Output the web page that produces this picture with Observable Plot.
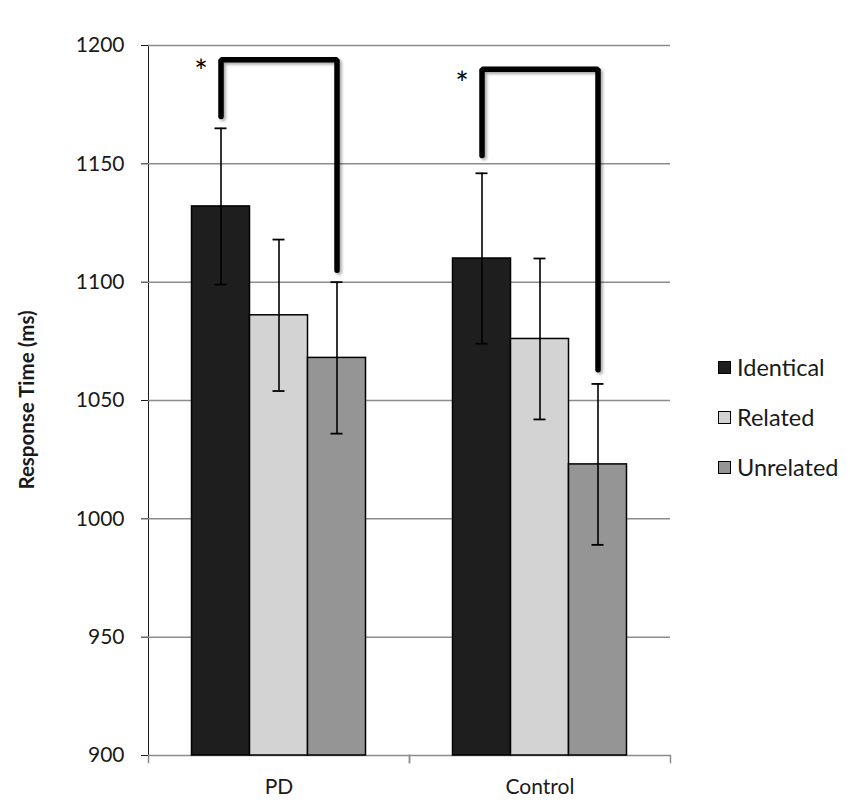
<!DOCTYPE html>
<html>
<head>
<meta charset="utf-8">
<script src="https://cdn.jsdelivr.net/npm/d3@7"></script>
<script src="https://cdn.jsdelivr.net/npm/@observablehq/plot@0.6"></script>
<style>
  html, body { margin: 0; padding: 0; background: #fff; }
  #wrap { position: relative; width: 850px; height: 809px; font-family: Lato, "Open Sans", sans-serif; color: #1a1a1a; }
  #ylabel { position: absolute; left: 26px; top: 400px; transform: translate(-50%, -50%) rotate(-90deg); white-space: nowrap; font-weight: bold; font-size: 20.5px; }
  #legend { position: absolute; left: 718px; top: 342px; }
  .row { display: flex; align-items: center; height: 50px; font-size: 23.5px; }
  .sw { width: 11px; height: 11px; border: 1.5px solid #000; margin-right: 6px; }
  #chart svg g[aria-label*="tick label"] text, #chart svg g[aria-label*="axis"] text { font-size: 21px !important; }
  #chart svg g[aria-label="line"] path { filter: drop-shadow(2px 2px 1.5px rgba(0,0,0,0.35)); }
</style>
</head>
<body>
<div id="wrap">
  <div id="chart"></div>
  <div id="ylabel">Response Time (ms)</div>
  <div id="legend"></div>
</div>
<script>
// ---- data ----
const groups = ["PD", "Control"];
const conditions = ["Identical", "Related", "Unrelated"];
const conditionColors = ["#1e1e1e", "#d3d3d3", "#959595"];
const meansPD = [1132, 1086, 1068];
const meansControl = [1110, 1076, 1023];
const errPD = [33, 32, 32];
const errControl = [36, 34, 34];
const yDomain = [900, 1200];
const yTicks = [900, 950, 1000, 1050, 1100, 1150, 1200];
// significance brackets: [left end, top, right end] in ms
const bracketPD = [1170, 1194, 1105];
const bracketControl = [1153.5, 1190, 1063];
const starLevels = [1192, 1187];

// ---- build tables ----
const rows = [];
groups.forEach((g, gi) => {
  const m = gi === 0 ? meansPD : meansControl;
  const e = gi === 0 ? errPD : errControl;
  conditions.forEach((c, ci) => rows.push({group: g, condition: c, mean: m[ci], lo: m[ci] - e[ci], hi: m[ci] + e[ci]}));
});
const brackets = [];
[bracketPD, bracketControl].forEach((b, gi) => {
  const g = groups[gi];
  brackets.push({group: g, condition: conditions[0], v: b[0]});
  brackets.push({group: g, condition: conditions[0], v: b[1]});
  brackets.push({group: g, condition: conditions[2], v: b[1]});
  brackets.push({group: g, condition: conditions[2], v: b[2]});
});
const stars = groups.map((g, i) => ({group: g, condition: conditions[0], v: starLevels[i]}));

const W = 850, H = 809, mt = 45, mb = 54, ml = 148, mr = 180;
const gray = "#8c8c8c";

const plot = Plot.plot({
  width: W, height: H,
  marginTop: mt, marginBottom: mb, marginLeft: ml, marginRight: mr,
  style: {fontSize: "21px", fontFamily: "Lato, 'Open Sans', sans-serif", color: "#1a1a1a", background: "white", overflow: "visible"},
  fx: {domain: groups, padding: 0, round: false, label: null, tickSize: 0, tickPadding: 24},
  x: {domain: conditions, paddingInner: 0, paddingOuter: 0.75, round: false, axis: null},
  y: {domain: yDomain, ticks: yTicks, tickFormat: d => String(d), tickSize: 7, tickPadding: 17, label: null, line: true},
  color: {domain: conditions, range: conditionColors},
  marks: [
    Plot.ruleY(yTicks, {stroke: gray, strokeWidth: 1.5}),
    Plot.frame({anchor: "left", stroke: gray, strokeWidth: 1.5, insetTop: H - mt - mb, insetBottom: -7}),
    Plot.frame({anchor: "right", stroke: gray, strokeWidth: 1.5, insetTop: H - mt - mb, insetBottom: -7}),
    Plot.barY(rows, {fx: "group", x: "condition", y1: () => yDomain[0], y2: "mean", fill: "condition", stroke: "#000", strokeWidth: 1.5}),
    Plot.ruleX(rows, {fx: "group", x: "condition", y1: "lo", y2: "hi", stroke: "#000", strokeWidth: 1.6}),
    Plot.tickY(rows, {fx: "group", x: "condition", y: "hi", stroke: "#000", strokeWidth: 1.8, insetLeft: 23, insetRight: 23}),
    Plot.tickY(rows, {fx: "group", x: "condition", y: "lo", stroke: "#000", strokeWidth: 1.8, insetLeft: 23, insetRight: 23}),
    Plot.line(brackets, {fx: "group", x: "condition", y: "v", stroke: "#000", strokeWidth: 5.5, strokeLinejoin: "miter", strokeLinecap: "round"}),
    Plot.text(stars, {fx: "group", x: "condition", y: "v", text: () => "*", dx: -20, dy: 8, fontSize: 32, fill: "#000"})
  ]
});
document.getElementById("chart").appendChild(plot);

const legend = d3.select("#legend");
conditions.forEach((c, i) => {
  const r = legend.append("div").attr("class", "row");
  r.append("div").attr("class", "sw").style("background", conditionColors[i]);
  r.append("span").text(c);
});
</script>
</body>
</html>
